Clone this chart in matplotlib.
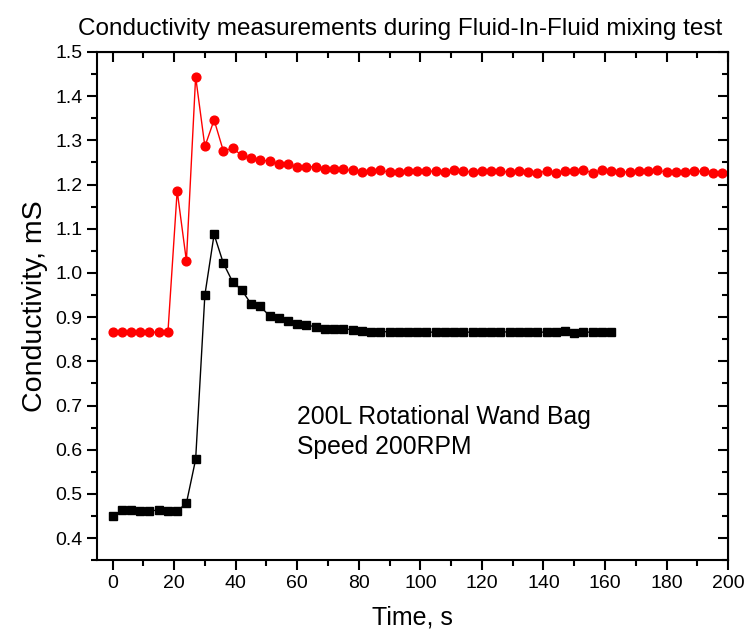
import matplotlib
matplotlib.use("Agg")
import matplotlib.pyplot as plt
import numpy as np
from matplotlib.ticker import MultipleLocator

plt.rcParams['font.family'] = ['Liberation Sans', 'DejaVu Sans']

# Time axis, sampled every 3 s
red_time = np.arange(0, 199, 3)
black_time = np.arange(0, 163, 3)

red_cond = [
    0.866, 0.866, 0.866, 0.866, 0.866, 0.866, 0.866,
    1.186, 1.027, 1.444, 1.286, 1.346, 1.276, 1.282, 1.266, 1.259, 1.255,
    1.253, 1.246, 1.247, 1.240, 1.240, 1.240, 1.236, 1.236,
    1.234, 1.232, 1.229, 1.231, 1.232, 1.228, 1.229, 1.230, 1.230, 1.230,
    1.230, 1.228, 1.232, 1.230, 1.228, 1.230, 1.230, 1.230, 1.228, 1.230,
    1.228, 1.227, 1.230, 1.227, 1.230, 1.230, 1.232, 1.227, 1.232, 1.230,
    1.229, 1.228, 1.230, 1.230, 1.232, 1.228, 1.229, 1.228, 1.230, 1.230,
    1.225, 1.225,
]

black_cond = [
    0.449, 0.463, 0.464, 0.461, 0.462, 0.463, 0.462, 0.461, 0.479, 0.578,
    0.950, 1.087, 1.022, 0.980, 0.961, 0.930, 0.924, 0.903, 0.899, 0.891,
    0.885, 0.882, 0.878, 0.874, 0.874,
    0.874, 0.871, 0.869, 0.867, 0.867, 0.867, 0.867, 0.867, 0.866, 0.866,
    0.866, 0.867, 0.867, 0.866, 0.866, 0.867, 0.867, 0.867, 0.866, 0.866,
    0.867, 0.866, 0.866, 0.867, 0.869, 0.864, 0.866, 0.866, 0.866, 0.866,
]

fig = plt.figure(figsize=(7.53, 6.33), dpi=100)
ax = fig.add_axes([0.129, 0.115, 0.838, 0.803])

ax.plot(red_time, red_cond, color='red', marker='o', markersize=6.3, linewidth=1)
ax.plot(black_time, black_cond, color='black', marker='s', markersize=5.2, linewidth=1)

ax.set_xlim(-5, 200)
ax.set_ylim(0.35, 1.5)
ax.xaxis.set_major_locator(MultipleLocator(20))
ax.xaxis.set_minor_locator(MultipleLocator(10))
ax.set_yticks(np.arange(0.4, 1.51, 0.1))
ax.yaxis.set_minor_locator(MultipleLocator(0.05))

# left/bottom ticks outward, mirrored top/right ticks inward
ax.tick_params(axis='both', which='major', direction='out', length=7, width=1.5, labelsize=14)
ax.tick_params(axis='both', which='minor', direction='out', length=4, width=1.5)
for s in ax.spines.values():
    s.set_linewidth(1.5)

top = ax.secondary_xaxis('top')
top.xaxis.set_major_locator(MultipleLocator(20))
top.xaxis.set_minor_locator(MultipleLocator(10))
top.tick_params(which='major', direction='in', length=7, width=1.5, labeltop=False)
top.tick_params(which='minor', direction='in', length=4, width=1.5)
right = ax.secondary_yaxis('right')
right.set_yticks(np.arange(0.4, 1.51, 0.1))
right.yaxis.set_minor_locator(MultipleLocator(0.05))
right.tick_params(which='major', direction='in', length=7, width=1.5, labelright=False)
right.tick_params(which='minor', direction='in', length=4, width=1.5)

ax.set_xlabel("Time, s", fontsize=18, labelpad=10)
ax.set_ylabel("Conductivity, mS", fontsize=20.5, labelpad=5)
ax.set_title("Conductivity measurements during Fluid-In-Fluid mixing test",
             fontsize=17.5, pad=12, x=0.48)

ax.text(60, 0.59, "200L Rotational Wand Bag\nSpeed 200RPM", fontsize=17.8, linespacing=1.3)

fig.savefig("out.png", dpi=100)
